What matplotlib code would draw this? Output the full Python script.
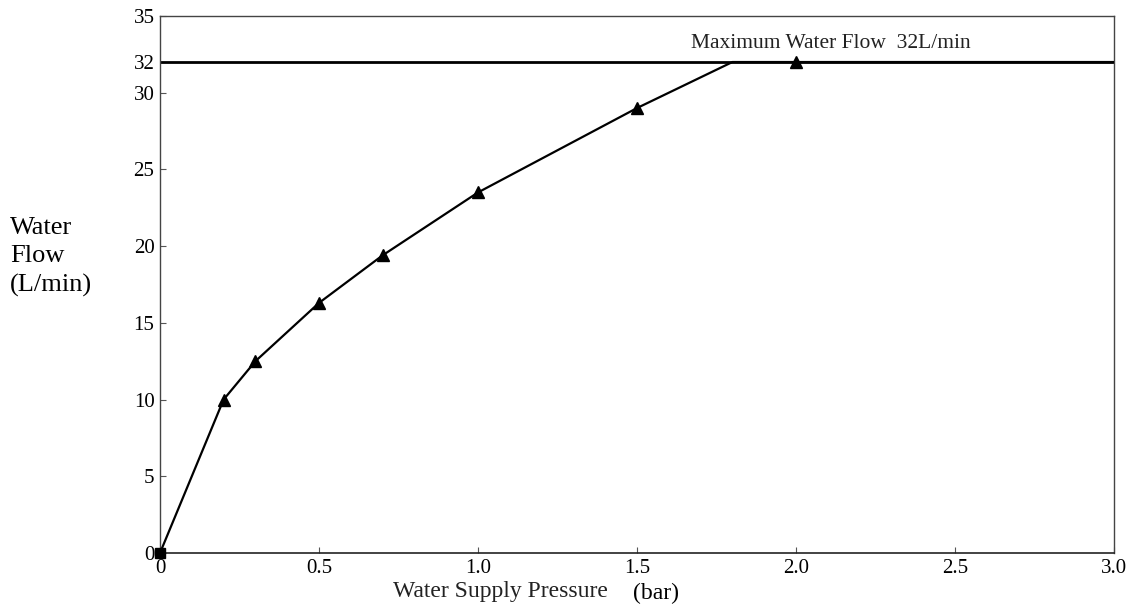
import matplotlib
matplotlib.use("Agg")
import matplotlib.pyplot as plt

# Data
pressure = [0.0, 0.2, 0.3, 0.5, 0.7, 1.0, 1.5, 2.0]
flow = [0.0, 10.0, 12.5, 16.3, 19.4, 23.5, 29.0, 32.0]
# curve path incl. the point where it meets the 32 L/min cap
curve_x = [0.0, 0.2, 0.3, 0.5, 0.7, 1.0, 1.5, 1.8, 2.0, 3.0]
curve_y = [0.0, 10.0, 12.5, 16.3, 19.4, 23.5, 29.0, 32.0, 32.0, 32.0]
max_flow = 32
xticks = [0, 0.5, 1.0, 1.5, 2.0, 2.5, 3.0]
xticklabels = ["0", "0.5", "1.0", "1.5", "2.0", "2.5", "3.0"]
yticks = [0, 5, 10, 15, 20, 25, 30, 32, 35]
yticklabels = ["0", "5", "10", "15", "20", "25", "30", "32", "35"]

plt.rcParams['font.family'] = ['Liberation Serif', 'DejaVu Serif']

fig = plt.figure(figsize=(11.28, 6.10), dpi=100)
ax = fig.add_axes([160/1128, 57/610, 954/1128, 537/610])

ax.axhline(max_flow, color='black', lw=2.0, zorder=2)
ax.plot(curve_x, curve_y, color='black', lw=1.6, zorder=3)
ax.plot(pressure[1:], flow[1:], linestyle='none', marker='^', ms=8,
        color='black', zorder=4)
ax.plot(pressure[:1], flow[:1], linestyle='none', marker='s', ms=7,
        color='black', zorder=4, clip_on=False)

ax.set_xlim(0, 3.0)
ax.set_ylim(0, 35)
ax.set_xticks(xticks)
ax.set_xticklabels(xticklabels, fontsize=15)
ax.set_yticks(yticks)
ax.set_yticklabels(yticklabels, fontsize=15)
ax.tick_params(direction='in', length=4, width=0.8, color='#555555', pad=4)

for side in ['top', 'left', 'right']:
    ax.spines[side].set_linestyle((0, (1, 1)))
    ax.spines[side].set_color('#444444')
    ax.spines[side].set_linewidth(1.0)
ax.spines['bottom'].set_color('#222222')
ax.spines['bottom'].set_linewidth(1.2)

ax.text(2.11, 32.6, "Maximum Water Flow  32L/min", fontsize=15.5,
        ha='center', va='bottom', color='#222222')

fig.text(500/1128, 1 - 592/610, "Water Supply Pressure", fontsize=17,
         ha='center', va='center', color='#222222')
fig.text(656/1128, 1 - 593/610, "(bar)", fontsize=17,
         ha='center', va='center')
fig.text(10/1128, 1 - 257/610, "Water\nFlow\n(L/min)", fontsize=19,
         ha='left', va='center', linespacing=1.35)

fig.savefig("out.png", dpi=100)
